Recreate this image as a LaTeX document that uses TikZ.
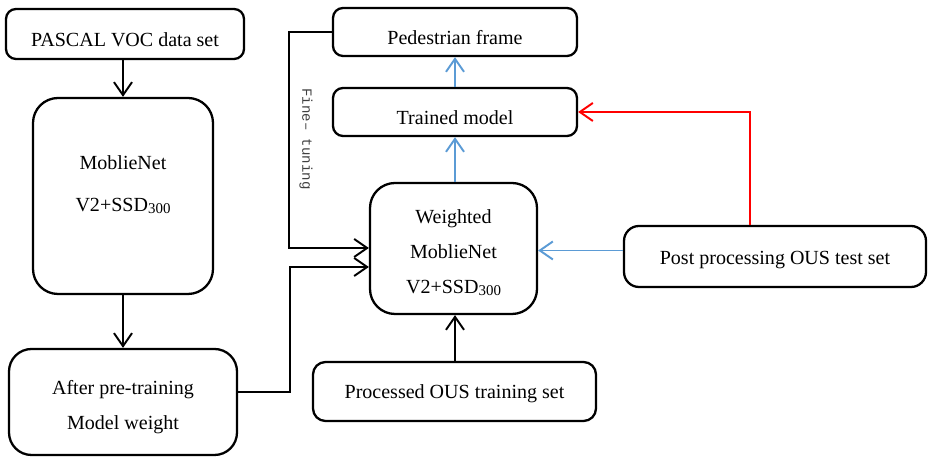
\documentclass[tikz,border=0pt]{standalone}
\usepackage{fontspec}
\setmainfont{Liberation Serif}
\setmonofont{Liberation Mono}
\usetikzlibrary{arrows.meta,calc}

\definecolor{arrowblue}{RGB}{91,155,213}
\newcommand{\subnum}[1]{\raisebox{-0.2ex}{\fontsize{8.5}{8.5}\selectfont #1}}

\begin{document}
\begin{tikzpicture}[
    box/.style={draw, line width=1.3pt, align=center,
      font=\fontsize{11.4}{20}\selectfont},
    lowtext/.style={text height=#1, text depth=2.5pt},
    arr/.style={line width=1.1pt, -{Straight Barb[length=2.6mm,width=3.6mm,line width=1.1pt]}},
  ]
  \useasboundingbox (0,0) rectangle (18.56,9.16);

  % left column
  \node[box, lowtext=16.5pt, rounded corners=0.2cm, minimum width=4.76cm, minimum height=1.00cm]
    (voc) at (2.50,8.48) {PASCAL VOC data set};
  \node[box, text depth=0.5cm, rounded corners=0.5cm, minimum width=3.60cm, minimum height=3.92cm]
    (net) at (2.46,5.24) {MoblieNet\\[4pt]V2+SSD\subnum{300}};
  \node[box, text height=1.18cm, rounded corners=0.45cm, minimum width=4.56cm, minimum height=2.12cm]
    (pre) at (2.46,1.12) {After pre-training\\Model weight};

  % middle column
  \node[box, lowtext=16.5pt, rounded corners=0.2cm, minimum width=4.88cm, minimum height=0.96cm]
    (ped) at (9.10,8.52) {Pedestrian frame};
  \node[box, lowtext=16.5pt, rounded corners=0.2cm, minimum width=4.88cm, minimum height=0.96cm]
    (trained) at (9.10,6.92) {Trained model};
  \node[box, text height=1.85cm, rounded corners=0.5cm, minimum width=3.34cm, minimum height=2.62cm]
    (weighted) at (9.07,4.19) {Weighted\\MoblieNet\\V2+SSD\subnum{300}};
  \node[box, lowtext=10.5pt, rounded corners=0.25cm, minimum width=5.66cm, minimum height=1.18cm]
    (train) at (9.09,1.33) {Processed OUS training set};

  % right side
  \node[box, lowtext=12pt, rounded corners=0.3cm, minimum width=6.04cm, minimum height=1.22cm]
    (test) at (15.50,4.03) {Post processing OUS test set};

  \coordinate (bendA) at (5.78,4.20);
  \coordinate (bendB) at (5.80,3.82);
  \coordinate (redup) at (15.00,6.92);

  \draw[arr] (voc.south -| net) -- (net.north);
  \draw[arr] (net.south) -- (pre.north);

  \draw[arr] (ped.west) -| (bendA) -- (weighted.west |- bendA);
  \draw[arr] ([yshift=0.2cm]pre.east) -| (bendB) -- (weighted.west |- bendB);
  \node[font=\ttfamily\fontsize{8}{8}\selectfont, text=black!75, rotate=-90]
    (ft) at (6.12,6.38) {Fine– tuning};

  \draw[arr] (train.north -| ped) -- (weighted.south -| ped);
  \draw[arr, arrowblue] (weighted.north -| ped) -- (trained.south);
  \draw[arr, arrowblue] (trained.north) -- (ped.south);
  \draw[arr, arrowblue] ([yshift=0.12cm]test.west) -- ([yshift=0.12cm]test.west -| weighted.east);

  \draw[arr, red] (redup |- test.north) -- (redup) -- (trained.east);
\end{tikzpicture}
\end{document}
